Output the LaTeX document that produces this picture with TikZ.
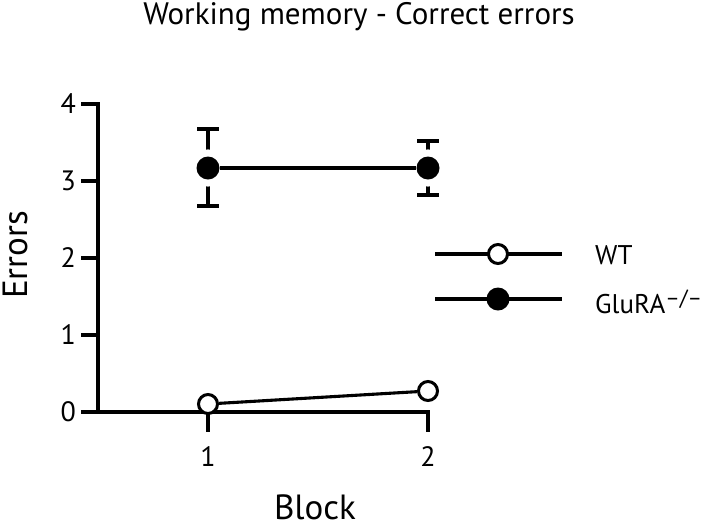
\documentclass[tikz,border=0pt]{standalone}
\usepackage{fontspec}
\setmainfont{PT Sans}
\begin{document}
\begin{tikzpicture}[x=1pt,y=-1pt,
  axisline/.style={line width=3.4pt},
  dataline/.style={line width=3.1pt},
  errbar/.style={line width=3.1pt},
  filledcore/.style={circle,fill=black,inner sep=0pt,minimum size=23pt},
  filledmk/.style={filledcore,preaction={draw=white,line width=14pt}},
  openmk/.style={circle,draw=black,fill=white,line width=3pt,inner sep=0pt,minimum size=19pt},
  ticklab/.style={font=\fontsize{28}{30}\selectfont,inner sep=0pt},
  axlab/.style={font=\fontsize{35}{38}\selectfont,inner sep=0pt},
  leglab/.style={font=\fontsize{27}{30}\selectfont,inner sep=0pt,anchor=west}]
\useasboundingbox (0,0) rectangle (720,528);
% title
\node[font=\fontsize{31}{34}\selectfont,inner sep=0pt] (title) at (359,17) {Working memory - Correct errors};
% axes
\coordinate (o) at (98,412);
\coordinate (ytop) at (98,104);
\coordinate (xend) at (428,412);
\draw[axisline,line cap=rect] (ytop) -- (o) -- (xend);
\foreach \v/\yy in {0/412,1/335,2/258,3/181,4/104}{
  \coordinate (yt\v) at (81,\yy);
  \draw[axisline] (yt\v) -- (98,\yy);
  \node[ticklab,anchor=east] (yl\v) at (76,\yy) {\v};
}
\foreach \v/\xx in {1/208,2/428}{
  \coordinate (xt\v) at (\xx,432);
  \draw[axisline] (\xx,412) -- (xt\v);
  \node[ticklab] (xl\v) at (\xx,457) {\v};
}
\node[axlab,anchor=base] (xlab) at (315,519) {Block};
\node[axlab,rotate=90] (ylab) at (15,255) {Errors};
% error bars
\coordinate (e1t) at (208,129);
\coordinate (e1b) at (208,206);
\coordinate (e2t) at (428,141);
\coordinate (e2b) at (428,195);
\draw[errbar] (e1t) -- (e1b);
\draw[errbar] (197,129) -- (219,129);
\draw[errbar] (197,206) -- (219,206);
\draw[errbar] (e2t) -- (e2b);
\draw[errbar] (417,141) -- (439,141);
\draw[errbar] (417,195) -- (439,195);
% data
\node[filledmk] (g1) at (208,168) {};
\node[filledmk] (g2) at (428,168) {};
\draw[dataline] (g1) -- (g2);
\node[openmk] (w1) at (208,404) {};
\node[openmk] (w2) at (428,391) {};
\draw[dataline] (w1) -- (w2);
% legend
\coordinate (l1a) at (435,254);
\coordinate (l1b) at (562,254);
\coordinate (l2a) at (435,299);
\coordinate (l2b) at (562,299);
\draw[dataline] (l1a) -- (l1b);
\draw[dataline] (l2a) -- (l2b);
\node[openmk] (lm1) at (498,254) {};
\node[filledcore] (lm2) at (498,299) {};
\node[leglab] (lt1) at (595,255) {WT};
\node[leglab] (lt2) at (595,302) {GluRA\raisebox{8pt}{\fontsize{22}{24}\selectfont –/–}};
\end{tikzpicture}
\end{document}
